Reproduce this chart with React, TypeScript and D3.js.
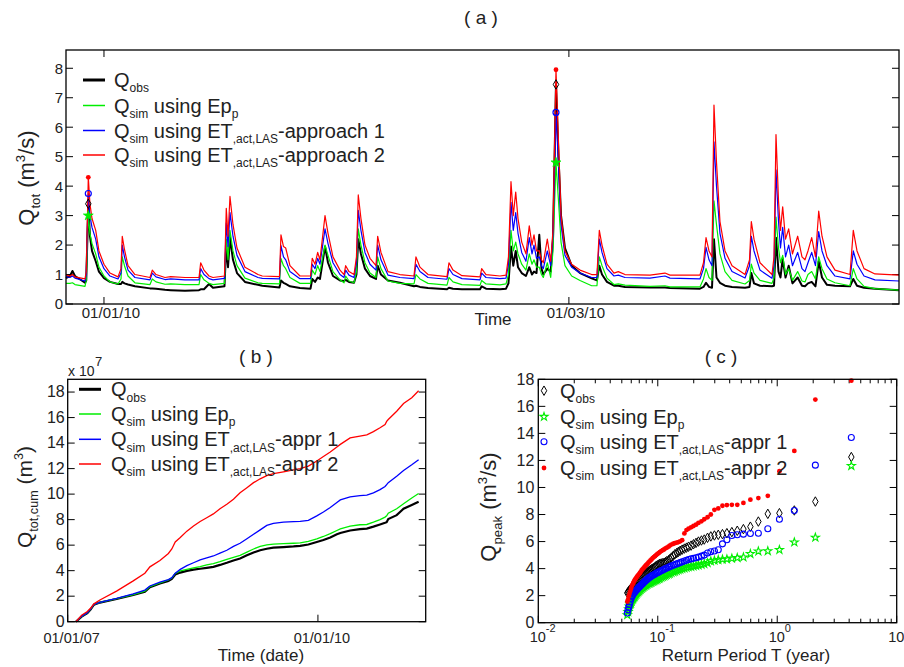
import React from 'react';
import * as d3 from 'd3';

// ---------------- Panel (a): hydrograph (days since 01/01/2010) ----------------
const hydroDay = [-4.82, -4.32, -4.0, -3.68, -2.41, -2.25, -1.99, -1.78, -1.52, -1.05, -0.64, 0.0, 0.76, 1.78, 2.16, 2.32, 2.6, 3.05, 3.93, 5.84, 6.13, 6.6, 7.74, 8.46, 10.28, 12.06, 12.27, 12.69, 13.33, 13.83, 15.29, 15.52, 15.74, 15.99, 16.37, 16.88, 17.89, 19.54, 20.09, 22.27, 22.46, 22.78, 23.06, 23.6, 24.87, 26.21, 26.43, 26.78, 27.12, 27.41, 28.05, 28.43, 29.06, 29.95, 30.46, 30.67, 31.09, 31.73, 32.04, 32.27, 32.61, 33.12, 33.76, 34.52, 34.73, 35.15, 36.04, 37.56, 39.34, 39.59, 40.1, 41.12, 43.53, 43.78, 44.29, 45.43, 47.72, 47.93, 48.48, 50.25, 51.02, 51.33, 51.65, 51.94, 52.25, 52.54, 53.01, 53.55, 53.97, 54.32, 54.57, 54.89, 55.24, 55.52, 55.75, 56.26, 56.69, 56.98, 57.36, 57.68, 58.0, 58.5, 59.35, 60.41, 61.89, 62.56, 62.86, 63.2, 63.83, 64.72, 65.27, 66.12, 69.29, 71.19, 71.83, 75.63, 76.08, 76.4, 76.78, 77.16, 77.41, 77.73, 78.17, 78.81, 79.7, 81.35, 81.92, 82.15, 82.49, 83.25, 84.77, 85.03, 85.28, 85.6, 85.85, 86.13, 86.49, 86.89, 87.37, 88.03, 88.58, 88.96, 89.34, 89.81, 90.29, 90.7, 91.12, 91.75, 92.77, 94.67, 95.09, 95.56, 96.45, 97.84, 100.89];
const hydroAppr2 = [0.98, 0.95, 1.0, 0.92, 0.85, 1.1, 4.3, 3.4, 2.9, 2.5, 1.8, 1.35, 1.05, 0.92, 1.2, 2.3, 1.85, 1.3, 1.0, 0.9, 1.15, 1.0, 0.9, 0.93, 0.9, 0.9, 1.4, 1.15, 0.95, 0.9, 0.95, 3.25, 2.3, 3.65, 2.7, 1.9, 1.25, 1.0, 0.95, 0.93, 2.35, 1.95, 1.9, 1.3, 0.95, 0.95, 1.55, 1.35, 1.75, 1.5, 3.0, 2.4, 1.6, 1.15, 1.0, 1.3, 1.1, 1.0, 1.6, 3.7, 2.9, 2.0, 1.55, 1.3, 2.3, 1.75, 1.1, 1.0, 0.95, 1.6, 1.25, 1.0, 0.93, 1.4, 1.15, 0.96, 0.92, 1.2, 1.0, 0.95, 0.98, 1.6, 4.15, 3.0, 3.8, 2.9, 2.1, 1.7, 2.65, 2.0, 2.35, 1.8, 1.8, 1.5, 1.4, 2.2, 1.45, 2.5, 7.95, 5.5, 3.0, 1.8, 1.35, 1.15, 1.0, 1.0, 2.5, 2.0, 1.35, 1.05, 1.1, 1.0, 0.98, 1.05, 0.98, 0.98, 1.4, 2.25, 1.8, 1.6, 6.75, 4.8, 2.8, 1.8, 1.3, 1.0, 1.5, 2.8, 2.2, 1.4, 1.0, 1.6, 5.75, 3.5, 2.5, 3.3, 2.2, 2.55, 1.7, 2.3, 1.6, 1.5, 1.8, 2.25, 1.6, 3.15, 2.3, 1.6, 1.15, 1.0, 2.5, 1.8, 1.2, 1.02, 0.98];
const hydroAppr1 = [0.93, 0.9, 0.95, 0.88, 0.78, 1.0, 3.75, 3.0, 2.6, 2.2, 1.6, 1.2, 0.95, 0.85, 1.05, 2.0, 1.6, 1.15, 0.9, 0.82, 1.05, 0.92, 0.83, 0.85, 0.82, 0.82, 1.2, 1.0, 0.86, 0.82, 0.87, 2.75, 1.95, 3.1, 2.3, 1.65, 1.1, 0.9, 0.87, 0.85, 1.98, 1.6, 1.5, 1.1, 0.86, 0.86, 1.35, 1.2, 1.55, 1.35, 2.55, 2.05, 1.4, 1.0, 0.9, 1.15, 0.98, 0.9, 1.4, 3.18, 2.5, 1.75, 1.35, 1.15, 2.0, 1.5, 0.98, 0.9, 0.86, 1.35, 1.1, 0.9, 0.84, 1.2, 1.0, 0.86, 0.82, 1.05, 0.9, 0.86, 0.88, 1.35, 3.45, 2.5, 3.1, 2.4, 1.75, 1.45, 2.25, 1.7, 2.0, 1.55, 1.6, 1.3, 1.2, 1.8, 1.3, 2.3, 6.5, 4.7, 2.7, 1.65, 1.25, 1.05, 0.9, 0.9, 2.2, 1.75, 1.2, 0.95, 0.98, 0.9, 0.88, 0.95, 0.88, 0.85, 1.2, 1.92, 1.5, 1.3, 5.5, 4.0, 2.4, 1.55, 1.1, 0.88, 1.3, 2.3, 1.8, 1.15, 0.87, 1.3, 4.55, 2.8, 1.9, 2.6, 1.6, 2.0, 1.3, 1.75, 1.2, 1.1, 1.4, 1.75, 1.3, 2.46, 1.8, 1.3, 0.95, 0.85, 1.8, 1.35, 0.95, 0.82, 0.78];
const hydroEp = [0.7, 0.7, 0.72, 0.66, 0.6, 0.8, 3.0, 2.4, 2.05, 1.7, 1.25, 0.95, 0.75, 0.68, 0.85, 1.6, 1.3, 0.95, 0.72, 0.66, 0.85, 0.75, 0.67, 0.68, 0.66, 0.66, 1.0, 0.82, 0.7, 0.66, 0.7, 2.2, 1.5, 2.5, 1.8, 1.3, 0.88, 0.72, 0.7, 0.68, 1.55, 1.3, 1.2, 0.9, 0.7, 0.7, 1.15, 1.0, 1.3, 1.1, 2.0, 1.65, 1.1, 0.82, 0.72, 0.95, 0.78, 0.72, 1.1, 2.55, 2.0, 1.4, 1.05, 0.9, 1.6, 1.2, 0.78, 0.7, 0.68, 1.0, 0.85, 0.7, 0.64, 0.9, 0.75, 0.66, 0.63, 0.8, 0.68, 0.65, 0.68, 1.0, 2.5, 1.8, 2.1, 1.7, 1.35, 1.15, 1.7, 1.35, 1.5, 1.25, 1.25, 1.0, 0.9, 1.4, 0.9, 1.8, 4.8, 3.5, 2.1, 1.3, 0.95, 0.8, 0.62, 0.62, 1.6, 1.3, 0.88, 0.66, 0.68, 0.64, 0.6, 0.62, 0.58, 0.58, 0.85, 1.2, 0.9, 0.8, 3.5, 2.7, 1.7, 1.1, 0.8, 0.68, 0.8, 1.35, 1.05, 0.8, 0.7, 0.9, 2.95, 1.9, 1.4, 1.65, 1.0, 1.2, 0.8, 1.1, 0.78, 0.75, 1.0, 1.1, 0.85, 1.6, 1.2, 0.85, 0.72, 0.62, 1.2, 0.85, 0.6, 0.52, 0.47];
const hydroObs = [0.88, 0.95, 1.12, 0.95, 0.72, 0.8, 3.4, 2.3, 1.8, 1.45, 1.1, 0.88, 0.75, 0.68, 0.68, 0.75, 0.7, 0.66, 0.6, 0.53, 0.53, 0.52, 0.48, 0.47, 0.45, 0.47, 0.5, 0.5, 0.68, 0.55, 0.6, 2.0, 1.25, 2.25, 1.5, 1.05, 0.75, 0.65, 0.62, 0.56, 0.8, 0.72, 0.68, 0.6, 0.54, 0.52, 0.85, 0.75, 0.9, 0.85, 1.95, 1.4, 0.95, 0.8, 0.78, 0.82, 0.75, 0.72, 1.0, 2.2, 1.7, 1.2, 0.95, 0.85, 1.3, 1.0, 0.8, 0.72, 0.6, 0.62, 0.58, 0.54, 0.5, 0.55, 0.52, 0.5, 0.5, 0.6, 0.52, 0.5, 0.52, 0.7, 1.95, 1.3, 1.8, 1.25, 1.05, 0.95, 1.25, 1.0, 1.1, 1.05, 2.35, 1.2, 1.0, 1.2, 1.1, 2.2, 7.45, 5.0, 3.0, 1.9, 1.3, 1.05, 0.87, 0.8, 1.3, 1.0, 0.75, 0.62, 0.62, 0.58, 0.56, 0.56, 0.54, 0.52, 0.58, 0.72, 0.58, 0.55, 2.2, 0.9, 0.72, 0.62, 0.58, 0.55, 0.58, 1.05, 0.7, 0.62, 0.6, 0.62, 2.25, 1.1, 0.9, 1.55, 0.9, 1.3, 0.7, 0.9, 0.62, 0.6, 0.7, 0.75, 0.6, 1.45, 0.9, 0.65, 0.62, 0.6, 0.85, 0.62, 0.55, 0.52, 0.47];
const hydroMarkerDay = [-1.99, 57.36];
const hydroDomainDay = [-4.82, 100.89];
const hydroYTicks = [0, 1, 2, 3, 4, 5, 6, 7, 8];
const hydroXTicks = ['2010-01-01', '2010-03-01'];
const hydroXTickLabels = ['01/01/10', '01/03/10'];

// ---------------- Panel (b): cumulative discharge (x 10^7 m3) ----------------
const cumDates = ['2007-02-06', '2007-03-03', '2007-03-28', '2007-04-11', '2007-04-26', '2007-05-22', '2007-08-03', '2007-10-15', '2007-12-05', '2007-12-27', '2008-02-09', '2008-03-17', '2008-04-01', '2008-04-16', '2008-05-08', '2008-06-06', '2008-07-05', '2008-08-03', '2008-09-01', '2008-09-30', '2008-10-29', '2008-11-28', '2008-12-27', '2009-01-25', '2009-02-24', '2009-03-25', '2009-04-23', '2009-05-22', '2009-06-20', '2009-08-03', '2009-09-16', '2009-10-15', '2009-11-20', '2009-12-27', '2010-01-25', '2010-02-24', '2010-03-25', '2010-04-09', '2010-05-22', '2010-07-04', '2010-08-03', '2010-09-01', '2010-09-30', '2010-10-22', '2010-10-29', '2010-11-05', '2010-12-12', '2011-01-11', '2011-02-16', '2011-03-18'];
const cumObs = [0, 0.4, 0.68, 0.95, 1.33, 1.5, 1.78, 2.1, 2.35, 2.7, 3.0, 3.2, 3.35, 3.7, 3.85, 3.98, 4.08, 4.15, 4.22, 4.3, 4.45, 4.62, 4.8, 4.95, 5.2, 5.42, 5.6, 5.72, 5.8, 5.85, 5.9, 5.95, 6.05, 6.25, 6.4, 6.6, 6.85, 6.95, 7.15, 7.25, 7.3, 7.45, 7.62, 7.75, 7.8, 8.05, 8.35, 8.85, 9.15, 9.4];
const cumEp = [0, 0.42, 0.7, 0.98, 1.35, 1.52, 1.8, 2.13, 2.4, 2.75, 3.05, 3.27, 3.42, 3.78, 3.98, 4.1, 4.22, 4.32, 4.45, 4.55, 4.7, 4.88, 5.05, 5.2, 5.45, 5.7, 5.9, 6.02, 6.08, 6.12, 6.15, 6.18, 6.3, 6.5, 6.68, 6.9, 7.15, 7.28, 7.5, 7.6, 7.62, 7.8, 8.0, 8.2, 8.3, 8.5, 8.85, 9.25, 9.7, 10.05];
const cumAppr1 = [0, 0.42, 0.7, 0.98, 1.35, 1.52, 1.82, 2.18, 2.48, 2.8, 3.1, 3.3, 3.45, 3.8, 4.1, 4.4, 4.62, 4.85, 5.0, 5.15, 5.38, 5.6, 5.9, 6.15, 6.5, 6.85, 7.2, 7.55, 7.7, 7.8, 7.85, 7.87, 7.95, 8.3, 8.6, 8.95, 9.35, 9.55, 9.78, 9.88, 9.92, 10.1, 10.35, 10.6, 10.75, 10.9, 11.4, 11.85, 12.3, 12.7];
const cumAppr2 = [0, 0.5, 0.8, 1.05, 1.4, 1.7, 2.4, 3.2, 3.8, 4.3, 4.8, 5.35, 5.7, 6.25, 6.6, 7.1, 7.5, 7.85, 8.15, 8.45, 8.85, 9.2, 9.6, 10.1, 10.5, 10.9, 11.2, 11.45, 11.6, 11.75, 11.9, 12.0, 12.2, 12.6, 12.95, 13.3, 13.7, 13.9, 14.4, 14.55, 14.65, 14.9, 15.2, 15.45, 15.7, 15.85, 16.5, 17.1, 17.55, 18.1];
const cumDomain = ['2007-01-01', '2011-04-18'];
const cumYTicks = [0, 2, 4, 6, 8, 10, 12, 14, 16, 18];
const cumXTicks = ['2007-01-01', '2010-01-01'];
const cumXTickLabels = ['01/01/07', '01/01/10'];

// ---------------- Panel (c): peak discharge vs return period ----------------
const returnPeriod = [4.17, 2.085, 1.39, 1.043, 0.834, 0.695, 0.596, 0.521, 0.463, 0.417, 0.379, 0.348, 0.321, 0.298, 0.278, 0.261, 0.245, 0.232, 0.219, 0.209, 0.199, 0.19, 0.181, 0.174, 0.167, 0.16, 0.154, 0.149, 0.144, 0.139, 0.135, 0.13, 0.126, 0.123, 0.119, 0.116, 0.113, 0.11, 0.107, 0.104, 0.102, 0.0993, 0.097, 0.0948, 0.0927, 0.0907, 0.0887, 0.0869, 0.0851, 0.0834, 0.0818, 0.0802, 0.0787, 0.0772, 0.0758, 0.0745, 0.0732, 0.0719, 0.0707, 0.0695, 0.0684, 0.0673, 0.0662, 0.0652, 0.0642, 0.0632, 0.0622, 0.0613, 0.0604, 0.0596, 0.0587, 0.0579, 0.0571, 0.0564, 0.0556];
const peakObs = [12.25, 8.96, 8.3, 8.1, 8.05, 7.48, 7.1, 6.92, 6.8, 6.7, 6.62, 6.55, 6.5, 6.45, 6.38, 6.28, 6.15, 6.08, 6.0, 5.9, 5.8, 5.7, 5.62, 5.55, 5.48, 5.4, 5.32, 5.24, 5.15, 5.06, 4.95, 4.82, 4.7, 4.62, 4.55, 4.48, 4.43, 4.4, 4.38, 4.35, 4.3, 4.25, 4.2, 4.12, 4.05, 4.0, 3.95, 3.9, 3.85, 3.78, 3.72, 3.66, 3.58, 3.52, 3.45, 3.38, 3.3, 3.24, 3.18, 3.12, 3.06, 3.0, 2.94, 2.87, 2.8, 2.74, 2.67, 2.6, 2.55, 2.5, 2.45, 2.4, 2.32, 2.25, 2.2];
const peakEp = [11.6, 6.3, 5.95, 5.39, 5.3, 5.28, 5.09, 4.84, 4.8, 4.75, 4.7, 4.68, 4.65, 4.6, 4.55, 4.42, 4.35, 4.3, 4.26, 4.22, 4.18, 4.15, 4.12, 4.08, 4.04, 4.0, 3.95, 3.9, 3.85, 3.8, 3.75, 3.7, 3.65, 3.6, 3.55, 3.5, 3.45, 3.4, 3.35, 3.3, 3.25, 3.2, 3.16, 3.12, 3.08, 3.05, 3.0, 2.96, 2.93, 2.9, 2.85, 2.8, 2.75, 2.7, 2.65, 2.6, 2.53, 2.47, 2.4, 2.33, 2.27, 2.2, 2.12, 2.04, 1.95, 1.87, 1.78, 1.7, 1.58, 1.45, 1.35, 1.2, 1.0, 0.8, 0.57];
const peakAppr1 = [13.7, 11.65, 8.3, 7.65, 6.95, 6.62, 6.6, 6.55, 6.5, 6.45, 6.13, 5.83, 5.4, 5.3, 5.25, 5.15, 5.0, 4.92, 4.85, 4.8, 4.76, 4.72, 4.67, 4.62, 4.56, 4.5, 4.45, 4.4, 4.35, 4.3, 4.25, 4.2, 4.15, 4.1, 4.05, 4.0, 3.95, 3.9, 3.85, 3.8, 3.75, 3.7, 3.66, 3.6, 3.55, 3.5, 3.45, 3.4, 3.35, 3.28, 3.22, 3.16, 3.09, 3.02, 2.95, 2.88, 2.82, 2.75, 2.68, 2.62, 2.55, 2.48, 2.42, 2.35, 2.27, 2.19, 2.1, 2.0, 1.9, 1.75, 1.55, 1.35, 1.15, 0.95, 0.72];
const peakAppr2 = [17.9, 16.5, 12.7, 11.2, 9.38, 9.22, 9.1, 8.86, 8.72, 8.72, 8.7, 8.65, 8.45, 8.35, 8.0, 7.8, 7.65, 7.5, 7.38, 7.25, 7.15, 7.05, 6.95, 6.85, 6.6, 6.1, 6.02, 5.96, 5.92, 5.88, 5.84, 5.78, 5.7, 5.62, 5.55, 5.5, 5.42, 5.36, 5.3, 5.22, 5.15, 5.08, 5.0, 4.92, 4.85, 4.78, 4.68, 4.6, 4.52, 4.44, 4.35, 4.27, 4.2, 4.1, 4.02, 3.95, 3.86, 3.76, 3.66, 3.58, 3.5, 3.42, 3.33, 3.24, 3.16, 3.05, 2.92, 2.8, 2.66, 2.5, 2.3, 2.12, 1.95, 1.72, 1.56];
const peakYTicks = [0, 2, 4, 6, 8, 10, 12, 14, 16, 18];
const peakXTicks = [0.01, 0.1, 1, 10];
const peakXTickExp = ['-2', '-1', '0', '1'];

// ---------------- styling ----------------
const FONT = "'Liberation Sans', Arial, Helvetica, sans-serif";
const TXT = '#222';
const C_OBS = '#000000';
const C_EP = '#00ee00';
const C_A1 = '#0000ff';
const C_A2 = '#ff0000';

type Seg = { t: string; s?: 'sub' | 'sup' };

function Rich({ x, y, segs, size, anchor = 'start', transform }: { x?: number; y?: number; segs: Seg[]; size: number; anchor?: string; transform?: string }) {
  const subSize = size * 0.6;
  let prev = 0;
  return (
    <text x={x} y={y} transform={transform} fontFamily={FONT} fontSize={size} fill={TXT} textAnchor={anchor} style={{ whiteSpace: 'pre' }}>
      {segs.map((sg, i) => {
        const off = sg.s === 'sub' ? size * 0.27 : sg.s === 'sup' ? -size * 0.42 : 0;
        const dy = off - prev;
        prev = off;
        return (
          <tspan key={i} dy={dy} fontSize={sg.s ? subSize : size}>{sg.t}</tspan>
        );
      })}
    </text>
  );
}

const toDay = (d: number) => new Date(Date.UTC(2010, 0, 1) + d * 86400000);

export default function App() {
  // ---- panel a ----
  const A = { l: 66, r: 899, t: 50, b: 304 };
  const xA = d3.scaleUtc().domain([toDay(hydroDomainDay[0]), toDay(hydroDomainDay[1])]).range([A.l, A.r]);
  const yA = d3.scaleLinear().domain([0, 8.62]).range([A.b, A.t]);
  const lineA = (vals: number[]) =>
    d3.line<number>().x((_, i) => xA(toDay(hydroDay[i]))).y((v) => yA(v))(vals) || '';
  const markerIdx = hydroMarkerDay.map((d) => hydroDay.indexOf(d));

  // ---- panel b ----
  const B = { l: 67.7, r: 425.7, t: 379.3, b: 621.7 };
  const xB = d3.scaleUtc().domain(cumDomain.map((s) => new Date(s))).range([B.l, B.r]);
  const yB = d3.scaleLinear().domain([0, 19]).range([B.b, B.t]);
  const lineB = (vals: number[]) =>
    d3.line<number>().x((_, i) => xB(new Date(cumDates[i]))).y((v) => yB(v))(vals) || '';

  // ---- panel c ----
  const C = { l: 538.3, r: 896.7, t: 379.3, b: 622.7 };
  const xC = d3.scaleLog().domain([0.01, 10]).range([C.l, C.r]);
  const yC = d3.scaleLinear().domain([0, 18]).range([C.b, C.t]);
  const minorC: number[] = [];
  [0.01, 0.1, 1].forEach((dec) => {
    for (let k = 2; k <= 9; k++) minorC.push(dec * k);
  });

  const star = d3.symbol().type(d3.symbolStar).size(30)() || '';
  const starSmall = d3.symbol().type(d3.symbolStar).size(20)() || '';
  const diamond = d3.symbol().type(d3.symbolDiamond).size(26)() || '';

  const tick = 7;
  const frame = (P: { l: number; r: number; t: number; b: number }) => (
    <rect x={P.l} y={P.t} width={P.r - P.l} height={P.b - P.t} fill="none" stroke="#000" strokeWidth={1.3} />
  );

  const QobsSegs: Seg[] = [{ t: 'Q' }, { t: 'obs', s: 'sub' }];
  const QepSegs: Seg[] = [{ t: 'Q' }, { t: 'sim', s: 'sub' }, { t: ' using Ep' }, { t: 'p', s: 'sub' }];
  const Qet = (tail: string): Seg[] => [{ t: 'Q' }, { t: 'sim', s: 'sub' }, { t: ' using ET' }, { t: ',act,LAS', s: 'sub' }, { t: tail }];

  const legA = [
    { c: C_OBS, w: 3, segs: QobsSegs },
    { c: C_EP, w: 1.5, segs: QepSegs },
    { c: C_A1, w: 1.5, segs: Qet('-approach 1') },
    { c: C_A2, w: 1.5, segs: Qet('-approach 2') },
  ];
  const legARows = [80, 105.5, 130.5, 155];
  const legB = [
    { c: C_OBS, w: 3, segs: QobsSegs },
    { c: C_EP, w: 1.5, segs: QepSegs },
    { c: C_A1, w: 1.5, segs: Qet('-appr 1') },
    { c: C_A2, w: 1.5, segs: Qet('-appr 2') },
  ];
  const legBRows = [389.3, 414, 439.3, 464];
  const legCRows = [390.7, 416.7, 441.7, 468];

  return (
    <svg width={904} height={667} style={{ position: 'absolute', left: 0, top: 0, background: '#fff' }} fontFamily={FONT}>
      <rect x={0} y={0} width={904} height={667} fill="#fff" />

      {/* ================= Panel (a) ================= */}
      <text x={481} y={24} fontSize={19} textAnchor="middle" fill={TXT} style={{ whiteSpace: 'pre' }}>( a )</text>
      {hydroYTicks.map((v) => (
        <g key={'ay' + v}>
          <line x1={A.l} x2={A.l + tick} y1={yA(v)} y2={yA(v)} stroke="#000" strokeWidth={1} />
          <line x1={A.r - tick} x2={A.r} y1={yA(v)} y2={yA(v)} stroke="#000" strokeWidth={1} />
          <text x={A.l - 3} y={yA(v)} dy="0.36em" fontSize={15} textAnchor="end" fill={TXT}>{v}</text>
        </g>
      ))}
      {hydroXTicks.map((s, i) => {
        const x = xA(new Date(s));
        return (
          <g key={'ax' + s}>
            <line x1={x} x2={x} y1={A.b} y2={A.b - tick} stroke="#000" strokeWidth={1} />
            <line x1={x} x2={x} y1={A.t} y2={A.t + tick} stroke="#000" strokeWidth={1} />
            <text x={x + 7} y={318} fontSize={15} textAnchor="middle" fill={TXT}>{hydroXTickLabels[i]}</text>
          </g>
        );
      })}
      <text x={493} y={325} fontSize={17} textAnchor="middle" fill={TXT}>Time</text>
      <Rich transform="translate(34,178) rotate(-90)" anchor="middle" size={22}
        segs={[{ t: 'Q' }, { t: 'tot', s: 'sub' }, { t: ' (m' }, { t: '3', s: 'sup' }, { t: '/s)' }]} />

      <path d={lineA(hydroObs)} fill="none" stroke={C_OBS} strokeWidth={2} strokeLinejoin="round" />
      <path d={lineA(hydroEp)} fill="none" stroke={C_EP} strokeWidth={1.2} strokeLinejoin="round" />
      <path d={lineA(hydroAppr1)} fill="none" stroke={C_A1} strokeWidth={1.2} strokeLinejoin="round" />
      <path d={lineA(hydroAppr2)} fill="none" stroke={C_A2} strokeWidth={1.2} strokeLinejoin="round" />
      {markerIdx.map((i) => {
        const x = xA(toDay(hydroDay[i]));
        return (
          <g key={'am' + i}>
            <path d={diamond} transform={`translate(${x},${yA(hydroObs[i])})`} fill="none" stroke={C_OBS} strokeWidth={1} />
            <path d={star} transform={`translate(${x},${yA(hydroEp[i])})`} fill={C_EP} stroke={C_EP} strokeWidth={0.8} />
            <circle cx={x} cy={yA(hydroAppr1[i])} r={3} fill="none" stroke={C_A1} strokeWidth={1.2} />
            <circle cx={x} cy={yA(hydroAppr2[i])} r={2.4} fill={C_A2} />
          </g>
        );
      })}
      {frame(A)}
      {legA.map((L, i) => (
        <g key={'la' + i}>
          <line x1={83} x2={105} y1={legARows[i]} y2={legARows[i]} stroke={L.c} strokeWidth={L.w} />
          <Rich x={114} y={legARows[i] + 7} size={20} segs={L.segs} />
        </g>
      ))}

      {/* ================= Panel (b) ================= */}
      <text x={256} y={363} fontSize={19} textAnchor="middle" fill={TXT} style={{ whiteSpace: 'pre' }}>( b )</text>
      <text x={68} y={376} fontSize={14} fill={TXT} style={{ whiteSpace: 'pre' }}>x 10</text>
      <text x={95} y={366} fontSize={13} fill={TXT}>7</text>
      {cumYTicks.map((v) => (
        <g key={'by' + v}>
          <line x1={B.l} x2={B.l + tick} y1={yB(v)} y2={yB(v)} stroke="#000" strokeWidth={1} />
          <line x1={B.r - tick} x2={B.r} y1={yB(v)} y2={yB(v)} stroke="#000" strokeWidth={1} />
          <text x={B.l - 3} y={yB(v)} dy="0.33em" fontSize={16} textAnchor="end" fill={TXT}>{v}</text>
        </g>
      ))}
      {cumXTicks.map((s, i) => {
        const x = xB(new Date(s));
        return (
          <g key={'bx' + s}>
            <line x1={x} x2={x} y1={B.b} y2={B.b - tick} stroke="#000" strokeWidth={1} />
            <text x={x + 4} y={643} fontSize={14.5} textAnchor="middle" fill={TXT}>{cumXTickLabels[i]}</text>
          </g>
        );
      })}
      <text x={261} y={661} fontSize={17} textAnchor="middle" fill={TXT}>Time (date)</text>
      <Rich transform="translate(32,497) rotate(-90)" anchor="middle" size={21}
        segs={[{ t: 'Q' }, { t: 'tot,cum', s: 'sub' }, { t: ' (m' }, { t: '3', s: 'sup' }, { t: ')' }]} />
      <path d={lineB(cumObs)} fill="none" stroke={C_OBS} strokeWidth={2.2} />
      <path d={lineB(cumEp)} fill="none" stroke={C_EP} strokeWidth={1.3} />
      <path d={lineB(cumAppr1)} fill="none" stroke={C_A1} strokeWidth={1.3} />
      <path d={lineB(cumAppr2)} fill="none" stroke={C_A2} strokeWidth={1.3} />
      {frame(B)}
      {legB.map((L, i) => (
        <g key={'lb' + i}>
          <line x1={79} x2={101} y1={legBRows[i]} y2={legBRows[i]} stroke={L.c} strokeWidth={L.w} />
          <Rich x={111} y={legBRows[i] + 7} size={20} segs={L.segs} />
        </g>
      ))}

      {/* ================= Panel (c) ================= */}
      <text x={721} y={363} fontSize={19} textAnchor="middle" fill={TXT} style={{ whiteSpace: 'pre' }}>( c )</text>
      {peakYTicks.map((v) => (
        <g key={'cy' + v}>
          <line x1={C.l} x2={C.l + tick} y1={yC(v)} y2={yC(v)} stroke="#000" strokeWidth={1} />
          <line x1={C.r - tick} x2={C.r} y1={yC(v)} y2={yC(v)} stroke="#000" strokeWidth={1} />
          <text x={C.l - 4} y={yC(v)} dy="0.33em" fontSize={16} textAnchor="end" fill={TXT}>{v}</text>
        </g>
      ))}
      {peakXTicks.map((v, i) => {
        const x = xC(v);
        return (
          <g key={'cx' + v}>
            <line x1={x} x2={x} y1={C.b} y2={C.b - tick} stroke="#000" strokeWidth={1} />
            <line x1={x} x2={x} y1={C.t} y2={C.t + tick} stroke="#000" strokeWidth={1} />
            <text x={x - 8.5} y={642} fontSize={14.5} fill={TXT}>10</text>
            <text x={x + 7.5} y={632} fontSize={11} fill={TXT}>{peakXTickExp[i]}</text>
          </g>
        );
      })}
      {minorC.map((v) => (
        <g key={'cm' + v}>
          <line x1={xC(v)} x2={xC(v)} y1={C.b} y2={C.b - 4} stroke="#000" strokeWidth={1} />
          <line x1={xC(v)} x2={xC(v)} y1={C.t} y2={C.t + 4} stroke="#000" strokeWidth={1} />
        </g>
      ))}
      <text x={746} y={661} fontSize={17} textAnchor="middle" fill={TXT}>Return Period T (year)</text>
      <Rich transform="translate(496,507) rotate(-90)" anchor="middle" size={22}
        segs={[{ t: 'Q' }, { t: 'peak', s: 'sub' }, { t: ' (m' }, { t: '3', s: 'sup' }, { t: '/s)' }]} />

      {peakObs.map((v, i) => (
        <path key={'po' + i} d={diamond} transform={`translate(${xC(returnPeriod[i])},${yC(v)})`} fill="none" stroke={C_OBS} strokeWidth={1} />
      ))}
      {peakEp.map((v, i) => (
        <path key={'pe' + i} d={starSmall} transform={`translate(${xC(returnPeriod[i])},${yC(v)})`} fill="none" stroke={C_EP} strokeWidth={1.1} />
      ))}
      {peakAppr1.map((v, i) => (
        <circle key={'p1' + i} cx={xC(returnPeriod[i])} cy={yC(v)} r={3} fill="none" stroke={C_A1} strokeWidth={1.1} />
      ))}
      {peakAppr2.map((v, i) => (
        <circle key={'p2' + i} cx={xC(returnPeriod[i])} cy={yC(v)} r={2.4} fill={C_A2} />
      ))}
      {frame(C)}
      <path d={diamond} transform={`translate(544,${legCRows[0]})`} fill="none" stroke={C_OBS} strokeWidth={1} />
      <path d={starSmall} transform={`translate(544,${legCRows[1]})`} fill="none" stroke={C_EP} strokeWidth={1.1} />
      <circle cx={544} cy={legCRows[2]} r={3} fill="none" stroke={C_A1} strokeWidth={1.1} />
      <circle cx={544} cy={legCRows[3]} r={2.4} fill={C_A2} />
      {[QobsSegs, QepSegs, Qet('-appr 1'), Qet('-appr 2')].map((segs, i) => (
        <Rich key={'lc' + i} x={560} y={legCRows[i] + 7} size={20} segs={segs} />
      ))}
    </svg>
  );
}
